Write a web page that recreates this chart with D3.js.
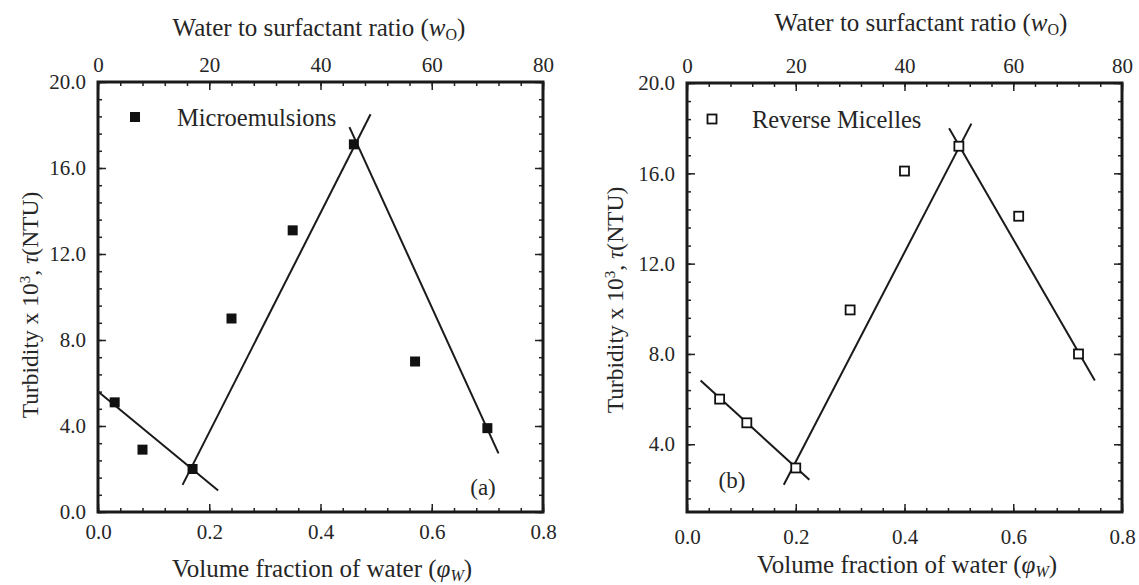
<!DOCTYPE html>
<html>
<head>
<meta charset="utf-8">
<script src="https://cdn.jsdelivr.net/npm/d3@7"></script>
<style>
  body { margin: 0; background: #fff; }
  svg text { font-family: "Liberation Serif", "DejaVu Serif", serif; fill: #262626; }
</style>
</head>
<body>
<div id="chart"></div>
<script>
// (a) microemulsions
var phiMicro = [0.03, 0.08, 0.17, 0.24, 0.35, 0.46, 0.57, 0.70];
var turbMicro = [5.1, 2.9, 2.0, 9.0, 13.1, 17.1, 7.0, 3.9];
var fitMicroX = [[0, 0.216], [0.152, 0.490], [0.452, 0.72]];
var fitMicroY = [[5.6, 1.0], [1.26, 18.5], [17.9, 2.73]];

// (b) reverse micelles
var phiRev = [0.06, 0.11, 0.20, 0.30, 0.40, 0.50, 0.61, 0.72];
var turbRev = [6.0, 4.95, 2.95, 9.95, 16.1, 17.2, 14.1, 8.0];
var fitRevX = [[0.025, 0.225], [0.178, 0.523], [0.482, 0.75]];
var fitRevY = [[6.82, 2.43], [2.21, 18.2], [18.0, 6.82]];

// tick labels
var phiTicks = [0, 0.2, 0.4, 0.6, 0.8];
var woTicks = [0, 20, 40, 60, 80];
var turbTicksA = [0, 4, 8, 12, 16, 20];
var turbTicksB = [4, 8, 12, 16, 20];

var svg = d3.select("#chart").append("svg")
  .attr("width", 1139)
  .attr("height", 585);

var panels = [
  {left: 98, right: 543, top: 82, bottom: 512, yDomain: [0, 20], yTicks: turbTicksA,
   phi: phiMicro, turb: turbMicro, fitX: fitMicroX, fitY: fitMicroY, filled: true,
   legend: "Microemulsions", tag: "(a)", botPad: 12,
   topTitle: [319, 27], botTitle: [322, 568], yTitle: [30, 305],
   legPos: [135, 117, 177], tagPos: [483, 487]},
  {left: 687, right: 1122, top: 83, bottom: 512, yDomain: [1, 20], yTicks: turbTicksB,
   phi: phiRev, turb: turbRev, fitX: fitRevX, fitY: fitRevY, filled: false,
   legend: "Reverse Micelles", tag: "(b)", botPad: 17,
   topTitle: [921, 22], botTitle: [907, 564], yTitle: [615, 300],
   legPos: [712, 119, 752], tagPos: [732, 480]}
];

panels.forEach(function(p) {
  var x = d3.scaleLinear().domain([0, 0.8]).range([p.left, p.right]);
  var xw = d3.scaleLinear().domain([0, 80]).range([p.left, p.right]);
  var y = d3.scaleLinear().domain(p.yDomain).range([p.bottom, p.top]);
  var g = svg.append("g");

  var yMinor = d3.range(0, 20.01, 0.8).filter(v => v >= p.yDomain[0]);
  var xMinor = d3.range(0, 0.801, 0.04);
  var wMinor = d3.range(0, 80.1, 4);

  function styleAxis(sel) {
    sel.select(".domain").remove();
    sel.selectAll("line").attr("stroke", "#222").attr("stroke-width", 1.5);
    sel.selectAll("text").attr("font-size", 21).attr("fill", "#262626");
  }

  // bottom
  g.append("g").attr("transform", `translate(0,${p.bottom})`)
    .call(d3.axisBottom(x).tickValues(xMinor).tickSize(-4).tickFormat("")).call(styleAxis);
  g.append("g").attr("transform", `translate(0,${p.bottom})`)
    .call(d3.axisBottom(x).tickValues(phiTicks).tickSize(-8).tickPadding(p.botPad).tickFormat(d3.format(".1f")))
    .call(styleAxis);
  // top
  g.append("g").attr("transform", `translate(0,${p.top})`)
    .call(d3.axisTop(xw).tickValues(wMinor).tickSize(-4).tickFormat("")).call(styleAxis);
  g.append("g").attr("transform", `translate(0,${p.top})`)
    .call(d3.axisTop(xw).tickValues(woTicks).tickSize(-8).tickPadding(10).tickFormat(d3.format("d")))
    .call(styleAxis);
  // left
  g.append("g").attr("transform", `translate(${p.left},0)`)
    .call(d3.axisLeft(y).tickValues(yMinor).tickSize(-4).tickFormat("")).call(styleAxis);
  g.append("g").attr("transform", `translate(${p.left},0)`)
    .call(d3.axisLeft(y).tickValues(p.yTicks).tickSize(-8).tickPadding(12).tickFormat(d3.format(".1f")))
    .call(styleAxis);
  // right
  g.append("g").attr("transform", `translate(${p.right},0)`)
    .call(d3.axisRight(y).tickValues(yMinor).tickSize(-4).tickFormat("")).call(styleAxis);
  g.append("g").attr("transform", `translate(${p.right},0)`)
    .call(d3.axisRight(y).tickValues(p.yTicks).tickSize(-8).tickFormat("")).call(styleAxis);

  // axis groups set font-family on <g>; clear it so the CSS serif rule applies
  g.selectAll("g").attr("font-family", null);

  // frame
  g.append("rect")
    .attr("x", p.left).attr("y", p.top)
    .attr("width", p.right - p.left).attr("height", p.bottom - p.top)
    .attr("fill", "none").attr("stroke", "#1a1a1a").attr("stroke-width", 3);

  // fitted lines
  var line = d3.line().x(d => x(d[0])).y(d => y(d[1]));
  p.fitX.forEach(function(xs, i) {
    g.append("path")
      .datum(xs.map((v, j) => [v, p.fitY[i][j]]))
      .attr("fill", "none").attr("stroke", "#1a1a1a").attr("stroke-width", 2)
      .attr("d", line);
  });

  // points
  var s = p.filled ? 10 : 9;
  g.selectAll(".pt").data(p.phi.map((v, i) => [v, p.turb[i]]))
    .enter().append("rect")
    .attr("x", d => x(d[0]) - s / 2).attr("y", d => y(d[1]) - s / 2)
    .attr("width", s).attr("height", s)
    .attr("fill", p.filled ? "#111" : "#fff")
    .attr("stroke", "#111").attr("stroke-width", p.filled ? 0 : 1.8);

  // legend
  g.append("rect")
    .attr("x", p.legPos[0] - s / 2).attr("y", p.legPos[1] - s / 2)
    .attr("width", s).attr("height", s)
    .attr("fill", p.filled ? "#111" : "#fff")
    .attr("stroke", "#111").attr("stroke-width", p.filled ? 0 : 1.8);
  g.append("text")
    .attr("x", p.legPos[2]).attr("y", p.legPos[1]).attr("dy", "0.35em")
    .attr("font-size", 24.5).text(p.legend);

  g.append("text")
    .attr("x", p.tagPos[0]).attr("y", p.tagPos[1]).attr("dy", "0.35em")
    .attr("text-anchor", "middle").attr("font-size", 23).text(p.tag);

  // top title
  var tt = g.append("text")
    .attr("x", p.topTitle[0]).attr("y", p.topTitle[1]).attr("dy", "0.35em")
    .attr("text-anchor", "middle").attr("font-size", 25);
  tt.append("tspan").text("Water to surfactant ratio (");
  tt.append("tspan").attr("font-style", "italic").text("w");
  tt.append("tspan").attr("font-size", 16).attr("baseline-shift", "-4").text("O");
  tt.append("tspan").text(")");

  // bottom title
  var bt = g.append("text")
    .attr("x", p.botTitle[0]).attr("y", p.botTitle[1]).attr("dy", "0.35em")
    .attr("text-anchor", "middle").attr("font-size", 25);
  bt.append("tspan").text("Volume fraction of water (");
  bt.append("tspan").attr("font-style", "italic").text("\u03c6");
  bt.append("tspan").attr("font-style", "italic").attr("font-size", 16).attr("baseline-shift", "-4").text("W");
  bt.append("tspan").text(")");

  // y title
  var yt = g.append("text")
    .attr("transform", `translate(${p.yTitle[0]},${p.yTitle[1]}) rotate(-90)`)
    .attr("dy", "0.35em").attr("text-anchor", "middle").attr("font-size", 23.5);
  yt.append("tspan").text("Turbidity x 10");
  yt.append("tspan").attr("font-size", 15).attr("baseline-shift", "super").text("3");
  yt.append("tspan").text(", ");
  yt.append("tspan").attr("font-style", "italic").text("\u03c4");
  yt.append("tspan").text("(NTU)");
});
</script>
</body>
</html>
